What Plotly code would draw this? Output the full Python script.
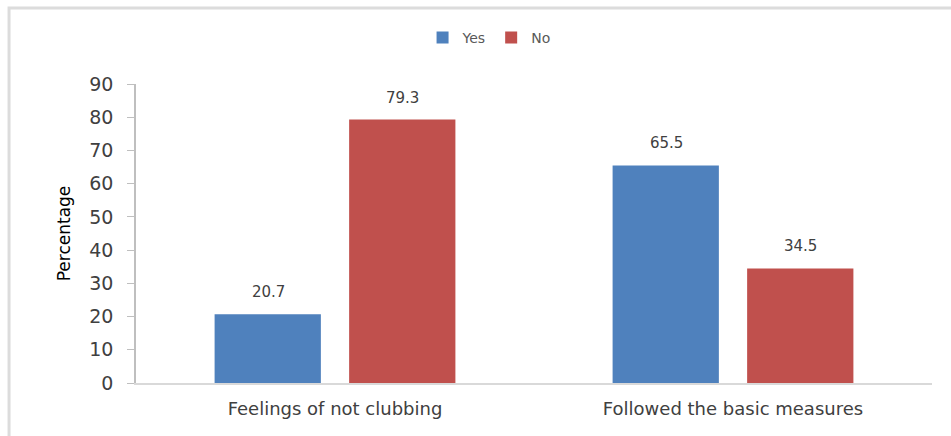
import plotly.graph_objects as go

categories = ["Feelings of not clubbing", "Followed the basic measures"]
yes_values = [20.7, 65.5]
no_values = [79.3, 34.5]
y_ticks = [0, 10, 20, 30, 40, 50, 60, 70, 80, 90]

BLUE = "#4f81bd"
RED = "#c0504d"
FONT = "'DejaVu Sans', sans-serif"

fig = go.Figure()
fig.add_trace(go.Bar(name="Yes", x=categories, y=yes_values, marker_color=BLUE,
                     marker_line_width=0))
fig.add_trace(go.Bar(name="No", x=categories, y=no_values, marker_color=RED,
                     marker_line_width=0))

# data labels via annotations
annotations = []
for ti, vals in enumerate([yes_values, no_values]):
    for ci, v in enumerate(vals):
        annotations.append(dict(
            x=ci, y=v, xref="x", yref="y", text=f"{v}", showarrow=False,
            xshift=(-67 if ti == 0 else 67), yshift=11, yanchor="bottom",
            font=dict(family=FONT, size=15, color="#404040")))

fig.update_layout(
    width=951, height=436,
    margin=dict(l=136, r=19, t=84, b=53),
    paper_bgcolor="white", plot_bgcolor="white",
    barmode="group", bargap=0.324, bargroupgap=0.21,
    showlegend=True,
    legend=dict(orientation="h", x=0.36, xanchor="left", y=1.154, yanchor="middle",
                font=dict(family=FONT, size=14, color="#595959"),
                itemwidth=30, traceorder="normal", bgcolor="rgba(0,0,0,0)"),
    font=dict(family=FONT),
    annotations=annotations,
    shapes=[dict(type="rect", xref="paper", yref="paper",
                 x0=-0.1595, x1=1.05, y0=-0.25, y1=1.254,
                 line=dict(color="#dcdcdc", width=3), layer="below")],
)
fig.update_xaxes(
    showline=True, linecolor="#d9d9d9", linewidth=1.5, ticks="",
    tickfont=dict(family=FONT, size=18, color="#404040"), ticklabelstandoff=9,
    showgrid=False, range=[-0.5, 1.5],
)
fig.update_yaxes(
    range=[0, 90], tickvals=y_ticks, showline=True, linecolor="#bfbfbf", linewidth=1.5,
    ticks="outside", ticklen=7, tickcolor="#bfbfbf", showgrid=False, zeroline=False,
    tickfont=dict(family=FONT, size=19, color="#404040"), ticklabelstandoff=10,
    title=dict(text="Percentage", font=dict(family=FONT, size=17, color="#000000"), standoff=14),
)

fig.write_html("out.html")
